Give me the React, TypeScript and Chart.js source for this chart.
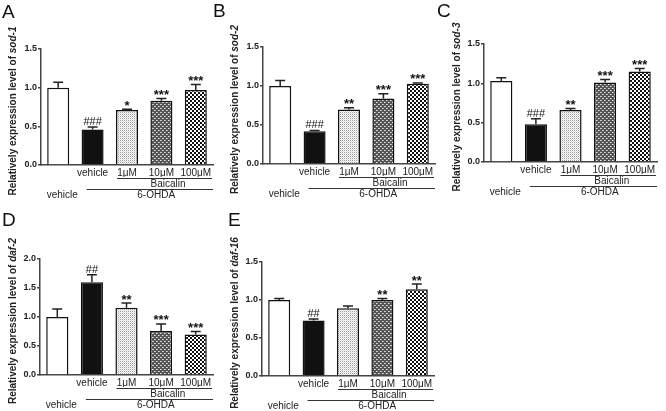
import React, { useEffect, useRef } from "react";
import { Chart, registerables } from "chart.js";
Chart.register(...registerables);

const FONT = "'Liberation Sans', Arial, Helvetica, sans-serif";

// categories (x tick labels)
const categories = ["", "vehicle", "1μM", "10μM", "100μM"];
const leftGroupLabel = "vehicle";
const baicalinLabel = "Baicalin";
const ohdaLabel = "6-OHDA";
const yTitlePrefix = "Relatively expression level of ";

// A: sod-1
const sod1Mean = [1.0, 0.46, 0.71, 0.83, 0.97];
const sod1Err = [0.07, 0.03, 0.01, 0.03, 0.07];
const sod1Marks = ["", "###", "*", "***", "***"];
// B: sod-2
const sod2Mean = [1.0, 0.42, 0.70, 0.84, 1.03];
const sod2Err = [0.07, 0.01, 0.02, 0.06, 0.01];
const sod2Marks = ["", "###", "**", "***", "***"];
// C: sod-3
const sod3Mean = [1.03, 0.48, 0.66, 1.01, 1.15];
const sod3Err = [0.04, 0.07, 0.02, 0.04, 0.04];
const sod3Marks = ["", "###", "**", "***", "***"];
// D: daf-2
const daf2Mean = [1.0, 1.6, 1.16, 0.76, 0.70];
const daf2Err = [0.14, 0.13, 0.08, 0.12, 0.05];
const daf2Marks = ["", "##", "**", "***", "***"];
// E: daf-16
const daf16Mean = [1.0, 0.73, 0.89, 1.0, 1.14];
const daf16Err = [0.02, 0.02, 0.03, 0.02, 0.07];
const daf16Marks = ["", "##", "", "**", "**"];

type PanelDef = {
  letter: string;
  gene: string;
  mean: number[];
  err: number[];
  marks: string[];
  yMax: number;
  x: number;
  y: number;
  axisLeft: number;
  axisTop: number;
  axisBottom: number;
  axisRight: number;
  letterX: number;
  letterY: number;
};

const panels: PanelDef[] = [
  { letter: "A", gene: "sod-1", mean: sod1Mean, err: sod1Err, marks: sod1Marks, yMax: 1.5, x: 0, y: 0, axisLeft: 41, axisTop: 49, axisBottom: 165, axisRight: 213, letterX: 2, letterY: 2 },
  { letter: "B", gene: "sod-2", mean: sod2Mean, err: sod2Err, marks: sod2Marks, yMax: 1.5, x: 222, y: 0, axisLeft: 41, axisTop: 47, axisBottom: 164, axisRight: 213, letterX: 213, letterY: 1 },
  { letter: "C", gene: "sod-3", mean: sod3Mean, err: sod3Err, marks: sod3Marks, yMax: 1.5, x: 444, y: 0, axisLeft: 40, axisTop: 44, axisBottom: 162, axisRight: 213, letterX: 437, letterY: 1 },
  { letter: "D", gene: "daf-2", mean: daf2Mean, err: daf2Err, marks: daf2Marks, yMax: 2.0, x: 0, y: 205, axisLeft: 40, axisTop: 54, axisBottom: 170, axisRight: 213, letterX: 2, letterY: 210 },
  { letter: "E", gene: "daf-16", mean: daf16Mean, err: daf16Err, marks: daf16Marks, yMax: 1.5, x: 222, y: 205, axisLeft: 40, axisTop: 57, axisBottom: 171, axisRight: 212, letterX: 228, letterY: 210 },
];

const W = 222;
const H = 205;
const Y_AXIS_W = 18;
const X_AXIS_H = 12;

function makePattern(kind: string): CanvasPattern | string {
  const c = document.createElement("canvas");
  const g = c.getContext("2d");
  if (!g) return "#888";
  if (kind === "dots") {
    c.width = 2; c.height = 2;
    g.fillStyle = "#ffffff"; g.fillRect(0, 0, 2, 2);
    g.fillStyle = "#9a9a9a"; g.fillRect(0, 0, 1, 1);
    g.fillStyle = "#d8d8d8"; g.fillRect(1, 1, 1, 1);
  } else if (kind === "grey") {
    c.width = 4; c.height = 4;
    g.fillStyle = "#555555"; g.fillRect(0, 0, 4, 4);
    g.fillStyle = "#e8e8e8"; g.fillRect(0, 0, 1, 1); g.fillRect(2, 2, 1, 1);
    g.fillStyle = "#aaaaaa"; g.fillRect(1, 0, 1, 1); g.fillRect(3, 2, 1, 1);
  } else {
    c.width = 4; c.height = 4;
    g.fillStyle = "#111111"; g.fillRect(0, 0, 4, 4);
    g.fillStyle = "#ffffff"; g.fillRect(0, 0, 2, 2); g.fillRect(2, 2, 2, 2);
  }
  const p = g.createPattern(c, "repeat");
  return p || "#888";
}

function Panel({ def }: { def: PanelDef }) {
  const ref = useRef<HTMLCanvasElement | null>(null);
  useEffect(() => {
    const canvas = ref.current;
    if (!canvas) return;
    const fills = ["#ffffff", "#111111", makePattern("dots"), makePattern("grey"), makePattern("check")];

    const overlay = {
      id: "overlay",
      afterDatasetsDraw(chart: any) {
        const ctx = chart.ctx as CanvasRenderingContext2D;
        const meta = chart.getDatasetMeta(0);
        const ys = chart.scales.y;
        const area = chart.chartArea;
        ctx.save();
        // error bars + marks
        meta.data.forEach((bar: any, i: number) => {
          const top = ys.getPixelForValue(def.mean[i] + def.err[i]);
          ctx.strokeStyle = "#222";
          ctx.lineWidth = 1.5;
          ctx.beginPath();
          ctx.moveTo(bar.x, bar.y);
          ctx.lineTo(bar.x, top);
          ctx.moveTo(bar.x - 5, top);
          ctx.lineTo(bar.x + 5, top);
          ctx.stroke();
          if (def.marks[i]) {
            const isHash = def.marks[i].includes("#");
            ctx.fillStyle = "#111";
            ctx.font = isHash ? `11px ${FONT}` : `bold 13px ${FONT}`;
            ctx.textAlign = "center";
            ctx.textBaseline = "alphabetic";
            ctx.fillText(def.marks[i], bar.x, isHash ? top - 2 : top + 0.5);
          }
        });
        // group lines
        const b = area.bottom;
        const bars = meta.data as any[];
        ctx.strokeStyle = "#333";
        ctx.lineWidth = 1;
        ctx.beginPath();
        ctx.moveTo(bars[2].x - 10, b + 13.5);
        ctx.lineTo(area.right - 1, b + 13.5);
        ctx.moveTo(bars[1].x - 6, b + 24.5);
        ctx.lineTo(area.right, b + 24.5);
        ctx.stroke();
        ctx.fillStyle = "#222";
        ctx.font = `10px ${FONT}`;
        ctx.textAlign = "center";
        ctx.textBaseline = "middle";
        ctx.fillText(baicalinLabel, (bars[2].x - 10 + area.right) / 2 + 3, b + 19);
        ctx.fillText(ohdaLabel, (bars[1].x + bars[4].x) / 2 + 12, b + 30);
        ctx.fillText(leftGroupLabel, bars[0].x + 4, b + 30);
        // y title
        const cy = (area.top + area.bottom) / 2 + 4;
        ctx.translate(13.5, cy);
        ctx.rotate(-Math.PI / 2);
        const f1 = `bold 10px ${FONT}`;
        const f2 = `italic bold 10px ${FONT}`;
        ctx.font = f1;
        const w1 = ctx.measureText(yTitlePrefix).width;
        ctx.font = f2;
        const w2 = ctx.measureText(def.gene).width;
        const sx = -(w1 + w2) / 2;
        ctx.textAlign = "left";
        ctx.textBaseline = "middle";
        ctx.font = f1;
        ctx.fillText(yTitlePrefix, sx, 0);
        ctx.font = f2;
        ctx.fillText(def.gene, sx + w1, 0);
        ctx.restore();
      },
    };

    const chart = new Chart(canvas, {
      type: "bar",
      data: {
        labels: categories,
        datasets: [
          {
            data: def.mean,
            backgroundColor: fills as any,
            borderColor: "#111",
            borderWidth: 1.5,
            barPercentage: 0.64,
            categoryPercentage: 1,
          },
        ],
      },
      options: {
        animation: false,
        responsive: false,
        devicePixelRatio: 1,
        events: [],
        layout: {
          padding: {
            left: def.axisLeft - Y_AXIS_W,
            top: def.axisTop,
            right: W - def.axisRight,
            bottom: H - def.axisBottom - X_AXIS_H,
          },
        },
        plugins: { legend: { display: false }, tooltip: { enabled: false } },
        scales: {
          x: {
            grid: { display: false, drawTicks: false },
            border: { display: true, color: "#444", width: 1.5 },
            ticks: { color: "#222", font: { family: FONT, size: 10 }, padding: 2, maxRotation: 0, autoSkip: false },
            afterFit: (s: any) => { s.height = X_AXIS_H; },
          },
          y: {
            min: 0,
            max: def.yMax,
            grid: { drawOnChartArea: false, drawTicks: true, tickLength: 3, color: "#444", lineWidth: 1.5 },
            border: { display: true, color: "#444", width: 1.5 },
            ticks: {
              stepSize: 0.5,
              color: "#222",
              padding: 1,
              font: { family: FONT, size: 9, weight: "bold" },
              callback: (v: any) => Number(v).toFixed(1),
            },
            afterFit: (s: any) => { s.width = Y_AXIS_W; },
          },
        },
      },
      plugins: [overlay],
    } as any);
    return () => chart.destroy();
  }, [def]);
  return (
    <canvas
      ref={ref}
      width={W}
      height={H}
      style={{ position: "absolute", left: def.x, top: def.y, width: W, height: H }}
    />
  );
}

export default function App() {
  return (
    <div style={{ position: "absolute", left: 0, top: 0, width: 666, height: 411, background: "#fff", overflow: "hidden" }}>
      {panels.map((p) => (
        <Panel key={p.letter} def={p} />
      ))}
      {panels.map((p) => (
        <div
          key={"l" + p.letter}
          style={{ position: "absolute", left: p.letterX, top: p.letterY, fontFamily: FONT, fontSize: 19, lineHeight: "20px", color: "#111", zIndex: 2 }}
        >
          {p.letter}
        </div>
      ))}
    </div>
  );
}
